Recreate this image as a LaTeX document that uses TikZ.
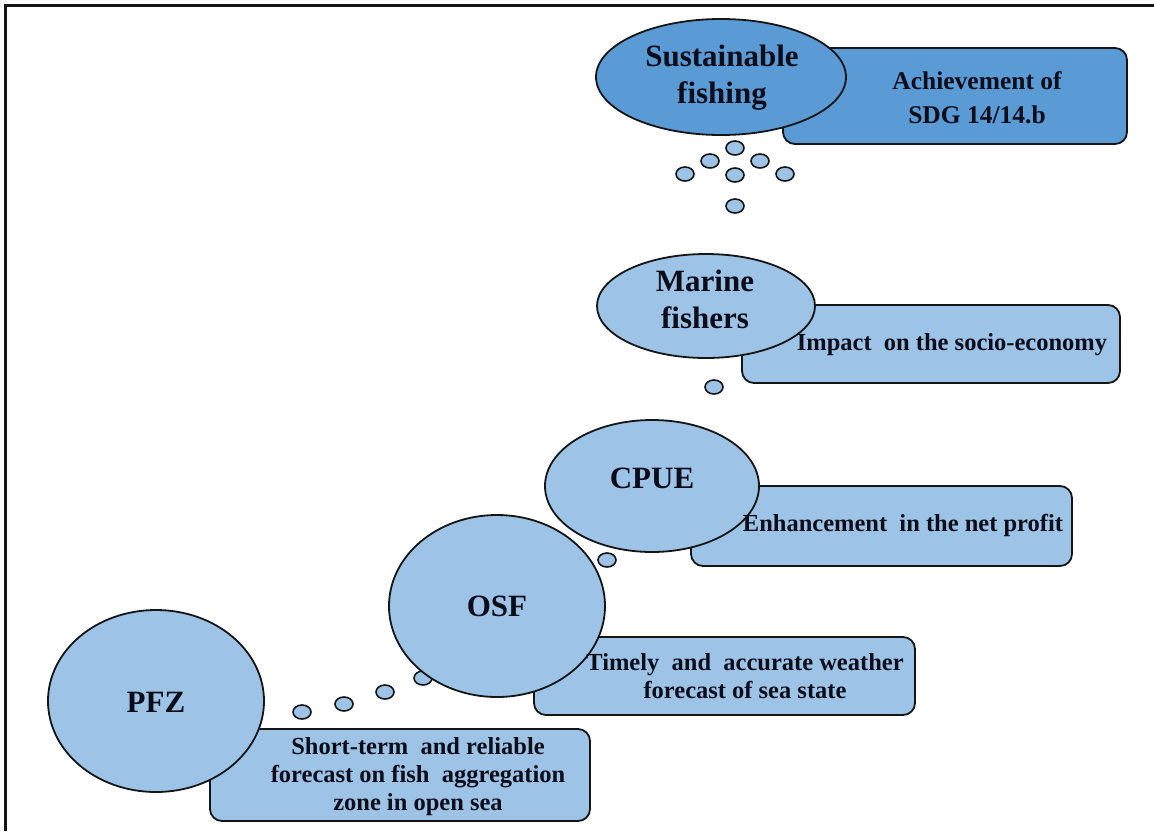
\documentclass[tikz,border=0pt]{standalone}
\usepackage{fontspec}
\IfFontExistsTF{LiberationSerif-Bold.ttf}{%
  \setmainfont{LiberationSerif}[Extension=.ttf, UprightFont=*-Regular, BoldFont=*-Bold]%
}{%
  \setmainfont{Liberation Serif}[BoldFont={Liberation Serif Bold}]%
}
\usetikzlibrary{shapes.geometric}
\definecolor{lightfill}{HTML}{9DC3E6}
\definecolor{darkfill}{HTML}{5B9BD5}
\definecolor{edge}{HTML}{151515}
\definecolor{ink}{HTML}{0D0D1A}
\tikzset{
  bubble/.style={ellipse, draw=edge, line width=1.8pt, fill=lightfill, inner sep=0pt},
  darkbubble/.style={bubble, fill=darkfill},
  infobox/.style={rectangle, rounded corners=12pt, draw=edge, line width=1.8pt, fill=lightfill, inner sep=0pt},
  darkbox/.style={infobox, fill=darkfill},
  dot/.style={ellipse, draw=edge, line width=1.6pt, fill=lightfill, minimum width=18pt, minimum height=14pt, inner sep=0pt},
  bigtext/.style={text=ink, align=center, inner sep=0pt, font=\bfseries\fontsize{31}{37}\selectfont},
  boxtext/.style={text=ink, align=center, inner sep=0pt, font=\bfseries\fontsize{24.5}{28}\selectfont},
}
\begin{document}
\begin{tikzpicture}[x=1pt,y=-1pt]
\useasboundingbox (0,0) rectangle (1154,831);
\fill[white] (0,0) rectangle (1154,831);
\draw[line width=3pt, edge] (5,831) -- (5,5) -- (1154,5);

% dots
\node[dot] (d1) at (735,148) {};
\node[dot] (d2) at (710,161) {};
\node[dot] (d3) at (760,161) {};
\node[dot] (d4) at (685,174) {};
\node[dot] (d5) at (735,175) {};
\node[dot] (d6) at (785,174) {};
\node[dot] (d7) at (735,206) {};
\node[dot] (d8) at (714,387) {};
\node[dot] (d9) at (607,560) {};
\node[dot] (d10) at (423,678) {};
\node[dot] (d11) at (385,692) {};
\node[dot] (d12) at (344,704) {};
\node[dot] (d13) at (302,712) {};

% top level
\node[darkbox, minimum width=344pt, minimum height=96pt] (abox) at (955,96) {};
\node[darkbubble, minimum width=250pt, minimum height=116pt] (sf) at (721,77) {};
\node[bigtext] (sft) at (722,78) {Sustainable\\fishing};
\node[boxtext, font=\bfseries\fontsize{25.5}{34}\selectfont] (abt) at (977,98) {Achievement of\\SDG 14/14.b};

% marine fishers
\node[infobox, minimum width=378pt, minimum height=78pt] (mbox) at (931,344) {};
\node[bubble, minimum width=218pt, minimum height=104pt] (mf) at (706,306) {};
\node[bigtext] (mft) at (705,299) {Marine\\fishers};
\node[boxtext] (mbt) at (952,345) {Impact~ on the socio-economy};

% CPUE
\node[infobox, minimum width=381pt, minimum height=80pt] (cbox) at (881.5,526) {};
\node[bubble, minimum width=214pt, minimum height=132pt] (cp) at (652,486) {};
\node[bigtext] (cpt) at (652,478) {CPUE};
\node[boxtext] (cbt) at (903,525) {Enhancement~ in the net profit};

% OSF
\node[infobox, minimum width=381pt, minimum height=78pt] (obox) at (724.5,676) {};
\node[bubble, minimum width=216pt, minimum height=182pt] (os) at (497,606) {};
\node[bigtext] (ost) at (497,606) {OSF};
\node[boxtext] (obt) at (745,676) {Timely~ and~ accurate weather\\forecast of sea state};

% PFZ
\node[infobox, minimum width=380pt, minimum height=92pt] (pbox) at (400,775) {};
\node[bubble, minimum width=216pt, minimum height=182pt] (pf) at (156,701) {};
\node[bigtext] (pft) at (156,702) {PFZ};
\node[boxtext] (pbt) at (418,777) {Short-term~ and reliable\\forecast on fish~ aggregation\\zone in open sea};
\end{tikzpicture}
\end{document}
